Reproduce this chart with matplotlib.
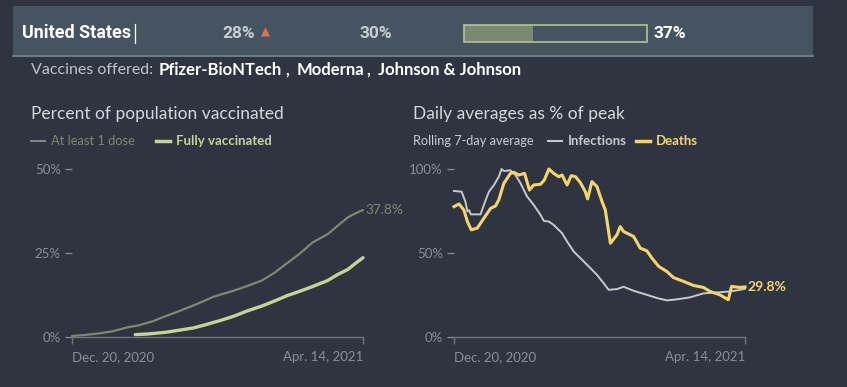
import matplotlib
matplotlib.use("Agg")
import matplotlib.pyplot as plt
from matplotlib.patches import Rectangle
from matplotlib.lines import Line2D
import numpy as np
import pandas as pd

# ---------------- data ----------------
start_date = pd.Timestamp("2020-12-20")
end_date = pd.Timestamp("2021-04-14")

dose1_days = [0, 5, 11, 16, 22, 26, 32, 37, 43, 49, 56, 64, 69, 75, 80, 84, 90, 95, 101, 105, 109, 112, 115]
dose1_vals = [0.3, 0.6, 1.1, 1.7, 2.9, 3.4, 4.7, 6.2, 7.9, 9.7, 12.0, 13.8, 15.1, 16.8, 19.1, 21.4, 24.8, 28.1, 30.6, 33.1, 35.6, 36.8, 37.8]

full_days = [25, 30, 37, 43, 48, 53, 59, 64, 69, 75, 80, 85, 90, 95, 101, 105, 109, 112, 115]
full_vals = [0.7, 0.9, 1.4, 2.1, 2.7, 3.7, 5.0, 6.2, 7.7, 9.2, 10.7, 12.3, 13.6, 15.0, 16.8, 18.6, 20.1, 21.9, 23.6]

inf_days = [0, 3, 4.5, 5.3, 6, 6.6, 10.5, 11.8, 13.8, 15.8, 17.7, 18.8, 19.7, 22.3, 24.3, 26.3, 28.9, 31.5, 34.2, 35.5,
            37.5, 39.4, 42.7, 44.7, 47.3, 49.9, 53.9, 56.5, 59.1, 61.1, 64.4, 67, 71, 76.2, 80.2, 84.1, 88, 93.3, 98.6,
            103.8, 109, 112, 115]
inf_vals = [86.9, 86.5, 80.6, 74.7, 75.5, 73.0, 73.0, 78.6, 86.5, 90.5, 95.4, 100.0, 98.8, 99.2, 96.4, 91.5, 83.6, 78.6,
            72.7, 69.1, 68.7, 66.7, 61.8, 56.8, 50.9, 47.0, 41.0, 37.0, 32.1, 28.1, 28.5, 29.9, 27.5, 25.1, 23.2, 21.8,
            22.4, 23.6, 26.0, 26.5, 27.1, 27.8, 28.7]

death_days = [0, 2, 3.9, 5.3, 6.8, 9.2, 11.8, 14.5, 16.4, 17.7, 19.7, 22.3, 23.7, 25.6, 27.9, 29.8, 31.5, 34.2, 35.7,
              37.5, 39.4, 41.4, 42.7, 44.7, 46.3, 48, 49.9, 51.9, 52.8, 54.5, 56.5, 58.5, 59.8, 61.8, 64.4, 65.7, 67,
              71, 73.6, 76.2, 78.2, 80.9, 84.1, 86.7, 90.7, 94.6, 98.6, 101.2, 105.1, 108.4, 109.7, 113, 115]
death_vals = [77.6, 79.2, 75.6, 68.7, 63.8, 64.8, 70.7, 76.6, 78.0, 81.6, 91.5, 97.4, 98.0, 96.4, 97.4, 87.5, 90.5, 90.9,
              93.5, 100.0, 97.4, 95.4, 96.4, 90.5, 96.0, 95.4, 92.0, 86.5, 82.2, 92.5, 89.5, 80.6, 75.6, 55.8, 60.8,
              65.7, 62.8, 59.8, 52.9, 51.3, 47.0, 42.0, 39.0, 35.4, 33.1, 30.7, 29.5, 27.1, 25.1, 22.2, 30.1, 29.5, 29.8]

country = "United States"
stat_a = "28%"
stat_b = "30%"
bar_share = 37.8
bar_label = "37%"
vaccines = ["Pfizer-BioNTech", "Moderna", "Johnson & Johnson"]
left_yticks = [0, 25, 50]
right_yticks = [0, 50, 100]
xtick_labels = ["Dec. 20, 2020", "Apr. 14, 2021"]

# ---------------- style ----------------
W, H = 847, 387
BG = "#2f3540"
BAND = "#465461"
TICK = "#8a9098"
AXC = "#6e757e"
C_DOSE1 = "#7f8871"
C_FULL = "#c3d495"
C_INF = "#c8c9cc"
C_DEATH = "#f7d56a"
FONT = "Lato"
HFONT = "Roboto"

fig = plt.figure(figsize=(W / 100, H / 100), dpi=100, facecolor=BG)


def fx(x):
    return x / W


def fy(y):
    return (H - y) / H


def txt(x, y, s, **kw):
    kw.setdefault("va", "center")
    kw.setdefault("ha", "left")
    return fig.text(fx(x), fy(y), s, **kw)


# header band
fig.patches.append(Rectangle((fx(13), fy(55)), fx(813) - fx(13), fy(6) - fy(55),
                             transform=fig.transFigure, facecolor=BAND, edgecolor="none", zorder=0))
fig.lines.append(Line2D([fx(13), fx(813)], [fy(55.5), fy(55.5)], transform=fig.transFigure,
                        color="#7d8a93", lw=1.2))

txt(22, 33, country, fontsize=13, fontweight="bold", color="white", family=HFONT)
fig.lines.append(Line2D([fx(134.5), fx(134.5)], [fy(24), fy(43)], transform=fig.transFigure,
                        color="white", lw=0.9))
txt(222, 33, stat_a, fontsize=12.5, fontweight="bold", color="#c9cdd1", family=HFONT)
txt(261, 32, "\u25B2", fontsize=8.5, color="#e07055", family="DejaVu Sans")
txt(359, 33, stat_b, fontsize=12.5, fontweight="bold", color="#c9cdd1", family=HFONT)

bar_x0, bar_x1 = 463.5, 647
bar_y0, bar_y1 = 24.5, 41.5
fig.patches.append(Rectangle((fx(bar_x0), fy(bar_y1)), (fx(bar_x1) - fx(bar_x0)) * bar_share / 100,
                             fy(bar_y0) - fy(bar_y1), transform=fig.transFigure,
                             facecolor="#7a8a72", edgecolor="none"))
fig.patches.append(Rectangle((fx(bar_x0), fy(bar_y1)), fx(bar_x1) - fx(bar_x0), fy(bar_y0) - fy(bar_y1),
                             transform=fig.transFigure, facecolor="none", edgecolor="#b2c48f", lw=1.2))
txt(653, 33, bar_label, fontsize=12.5, fontweight="bold", color="white", family=HFONT)

# vaccines line
txt(31, 70, "Vaccines offered:", fontsize=11.5, color="#bfc3c8", family=FONT)
fig.canvas.draw()
rend = fig.canvas.get_renderer()
xcur = 159
for i, v in enumerate(vaccines):
    tt = txt(xcur, 70, v, fontsize=12, fontweight="bold", color="white", family=FONT)
    xcur = tt.get_window_extent(rend).x1
    if i < len(vaccines) - 1:
        cc = txt(xcur + 3, 70, ",", fontsize=12, fontweight="bold", color="white", family=FONT)
        xcur = cc.get_window_extent(rend).x1 + 7

# titles
txt(31, 114, "Percent of population vaccinated", fontsize=12.5, color="#d4d7db", family=FONT)
txt(413, 114, "Daily averages as % of peak", fontsize=12.5, color="#d4d7db", family=FONT)

# legends
fig.lines.append(Line2D([fx(31), fx(45)], [fy(141), fy(141)], transform=fig.transFigure, color=C_DOSE1, lw=1.5))
txt(51, 141, "At least 1 dose", fontsize=9.3, color=C_DOSE1, family=FONT)
fig.lines.append(Line2D([fx(156), fx(170)], [fy(141), fy(141)], transform=fig.transFigure, color=C_FULL, lw=2.5))
txt(176, 141, "Fully vaccinated", fontsize=9.5, fontweight="bold", color=C_FULL, family=FONT)

txt(413, 141, "Rolling 7-day average", fontsize=9.2, color="#c9ccd0", family=FONT)
fig.lines.append(Line2D([fx(548), fx(562)], [fy(141), fy(141)], transform=fig.transFigure, color=C_INF, lw=1.5))
txt(568, 141, "Infections", fontsize=9.5, fontweight="bold", color=C_INF, family=FONT)
fig.lines.append(Line2D([fx(636), fx(650)], [fy(141), fy(141)], transform=fig.transFigure, color=C_DEATH, lw=2.5))
txt(656, 141, "Deaths", fontsize=9.5, fontweight="bold", color=C_DEATH, family=FONT)


def make_ax(x0, x1, y_top, y_bot, ymax, yticks):
    ax = fig.add_axes([fx(x0), fy(y_bot), fx(x1) - fx(x0), fy(y_top) - fy(y_bot)])
    ax.set_facecolor("none")
    ax.set_xlim(start_date, end_date)
    ax.set_ylim(0, ymax)
    for s in ["top", "right", "left"]:
        ax.spines[s].set_visible(False)
    ax.spines["bottom"].set_color(AXC)
    ax.spines["bottom"].set_linewidth(1.0)
    ax.set_yticks(yticks)
    ax.set_yticklabels([f"{v}%" for v in yticks], family=FONT, fontsize=9.5, color=TICK)
    ax.tick_params(axis="y", length=5, width=0.9, color=TICK, pad=3)
    ax.set_xticks([start_date, end_date])
    ax.set_xticklabels(xtick_labels, family=FONT, fontsize=9.5, color=TICK)
    ax.tick_params(axis="x", length=5, width=1.0, color=AXC, pad=5)
    lbls = ax.get_xticklabels()
    lbls[0].set_ha("left")
    lbls[1].set_ha("right")
    return ax


axL = make_ax(72, 363, 169, 337, 50, left_yticks)
axR = make_ax(454, 745, 169, 337, 100, right_yticks)

to_dates = lambda days: start_date + pd.to_timedelta(np.asarray(days, dtype=float), unit="D")

axL.plot(to_dates(dose1_days), dose1_vals, color=C_DOSE1, lw=1.6, clip_on=False, solid_capstyle="round")
axL.plot(to_dates(full_days), full_vals, color=C_FULL, lw=2.4, clip_on=False, solid_capstyle="round")
axL.annotate(f"{dose1_vals[-1]}%", (to_dates([dose1_days[-1]])[0], dose1_vals[-1]), xytext=(2, 0),
             textcoords="offset points", va="center", ha="left", fontsize=9.8, color=C_DOSE1, family=FONT)

axR.plot(to_dates(inf_days), inf_vals, color=C_INF, lw=1.4, clip_on=False)
axR.plot(to_dates(death_days), death_vals, color=C_DEATH, lw=2.2, clip_on=False)
axR.annotate(f"{death_vals[-1]}%", (to_dates([death_days[-1]])[0], death_vals[-1]), xytext=(2, 0),
             textcoords="offset points", va="center", ha="left", fontsize=10, fontweight="bold",
             color=C_DEATH, family=FONT)

fig.savefig("out.png", dpi=100, facecolor=BG)
